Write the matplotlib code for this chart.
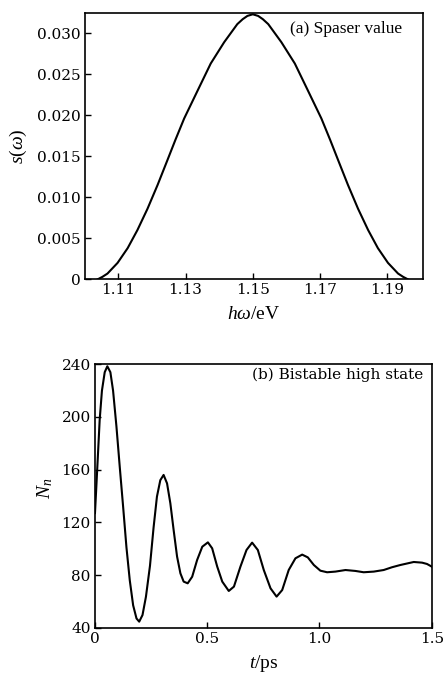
import numpy as np
import matplotlib
matplotlib.use("Agg")
import matplotlib.pyplot as plt

plt.rcParams['font.family'] = ['Liberation Serif', 'DejaVu Serif']
plt.rcParams['mathtext.fontset'] = 'custom'
plt.rcParams['mathtext.rm'] = 'Liberation Serif'
plt.rcParams['mathtext.it'] = 'Liberation Serif:italic'

# (a) spaser value
hw = [1.1039, 1.1053, 1.1068, 1.1098, 1.1128, 1.1157, 1.1187, 1.1217, 1.1246, 1.1270,
      1.1296, 1.1336, 1.1375, 1.1415, 1.1454, 1.1470, 1.1484, 1.1500,
      1.1516, 1.1530, 1.1546, 1.1585, 1.1625, 1.1664, 1.1704, 1.1730, 1.1754,
      1.1783, 1.1813, 1.1843, 1.1872, 1.1902, 1.1932, 1.1947, 1.1961]
s_w = [0.0, 0.0003, 0.0007, 0.0020, 0.0038, 0.0060, 0.0086, 0.0115, 0.0145, 0.0170,
       0.0196, 0.0230, 0.0263, 0.0289, 0.0311, 0.0317, 0.0321, 0.0323,
       0.0321, 0.0317, 0.0311, 0.0289, 0.0263, 0.0230, 0.0196, 0.0170, 0.0145,
       0.0115, 0.0086, 0.0060, 0.0038, 0.0020, 0.0007, 0.0003, 0.0]
a_xticks = [1.11, 1.13, 1.15, 1.17, 1.19]
a_yticks = [0, 0.005, 0.010, 0.015, 0.020, 0.025, 0.030]
a_ylabels = ['0', '0.005', '0.010', '0.015', '0.020', '0.025', '0.030']

# (b) bistable high state
t_ps = [0.0, 0.006, 0.0134, 0.021, 0.031, 0.0434, 0.055, 0.0686, 0.0806, 0.0955,
        0.1104, 0.1253, 0.1402, 0.155, 0.170, 0.185, 0.197, 0.2117, 0.227, 0.245,
        0.261, 0.276, 0.291, 0.3057, 0.321, 0.3357, 0.3505, 0.3657, 0.3805, 0.395,
        0.413, 0.433, 0.455, 0.478, 0.503, 0.522, 0.5445, 0.567, 0.596, 0.619,
        0.648, 0.675, 0.70, 0.7255, 0.752, 0.782, 0.809, 0.834, 0.863, 0.893,
        0.923, 0.948, 0.975, 1.004, 1.034, 1.071, 1.116, 1.16, 1.197, 1.242,
        1.286, 1.323, 1.36, 1.42, 1.457, 1.479, 1.5]
N_n = [127, 147, 172, 198, 220, 234, 238.5, 234, 220, 193,
       162, 132, 101, 76, 57, 47, 44.6, 49.6, 63.5, 87,
       116, 139.5, 152, 156, 149.6, 134.5, 114, 94, 81.3, 75,
       73.7, 78.7, 91.4, 101.5, 104.8, 100.3, 86.4, 75, 67.9, 71.2,
       86.4, 99, 104.6, 99, 83.8, 69.9, 63.6, 68.6, 83.8, 92.7,
       95.5, 93.4, 87.6, 83.3, 82.1, 82.6, 83.8, 83.1, 82.1, 82.6,
       83.8, 85.9, 87.6, 89.9, 89.4, 88.4, 86.4]
b_xticks = [0, 0.5, 1.0, 1.5]
b_xlabels = ['0', '0.5', '1.0', '1.5']
b_yticks = [40, 80, 120, 160, 200, 240]

fig = plt.figure(figsize=(4.43, 6.73), dpi=100)

ax1 = fig.add_axes([0.191, 0.585, 0.763, 0.395])
ax1.plot(hw, s_w, color='black', lw=1.5)
ax1.set_xlim(1.10, 1.2005)
ax1.set_ylim(0, 0.0324)
ax1.set_xticks(a_xticks)
ax1.set_xticklabels([f'{v:.2f}' for v in a_xticks])
ax1.set_yticks(a_yticks)
ax1.set_yticklabels(a_ylabels)
ax1.set_xlabel(r'$h\omega$/eV', fontsize=14)
ax1.set_ylabel(r'$s(\omega)$', fontsize=14)
ax1.xaxis.label.set_verticalalignment('center')
ax1.yaxis.label.set_verticalalignment('center')
ax1.xaxis.set_label_coords(0.5, -0.134)
ax1.yaxis.set_label_coords(-0.197, 0.5)
ax1.text(0.938, 0.941, '(a) Spaser value', transform=ax1.transAxes, ha='right',
         va='center', fontsize=12.5)

ax2 = fig.add_axes([0.2144, 0.0673, 0.7601, 0.3914])
ax2.plot(t_ps, N_n, color='black', lw=1.5)
ax2.set_xlim(0, 1.5)
ax2.set_ylim(40, 240)
ax2.set_xticks(b_xticks)
ax2.set_xticklabels(b_xlabels)
ax2.set_yticks(b_yticks)
ax2.set_xlabel(r'$t$/ps', fontsize=14)
ax2.set_ylabel(r'$N_n$', fontsize=14)
ax2.xaxis.label.set_verticalalignment('center')
ax2.yaxis.label.set_verticalalignment('center')
ax2.xaxis.set_label_coords(0.5, -0.134)
ax2.yaxis.set_label_coords(-0.148, 0.53)
ax2.text(0.974, 0.959, '(b) Bistable high state', transform=ax2.transAxes,
         ha='right', va='center', fontsize=11, family='DejaVu Serif')

for ax in (ax1, ax2):
    ax.tick_params(direction='in', length=4, width=1, pad=3)
    for lab in ax.get_xticklabels() + ax.get_yticklabels():
        lab.set_family('DejaVu Serif')
        lab.set_fontsize(11)
    for sp in ax.spines.values():
        sp.set_linewidth(1.2)

fig.savefig('out.png', dpi=100)
